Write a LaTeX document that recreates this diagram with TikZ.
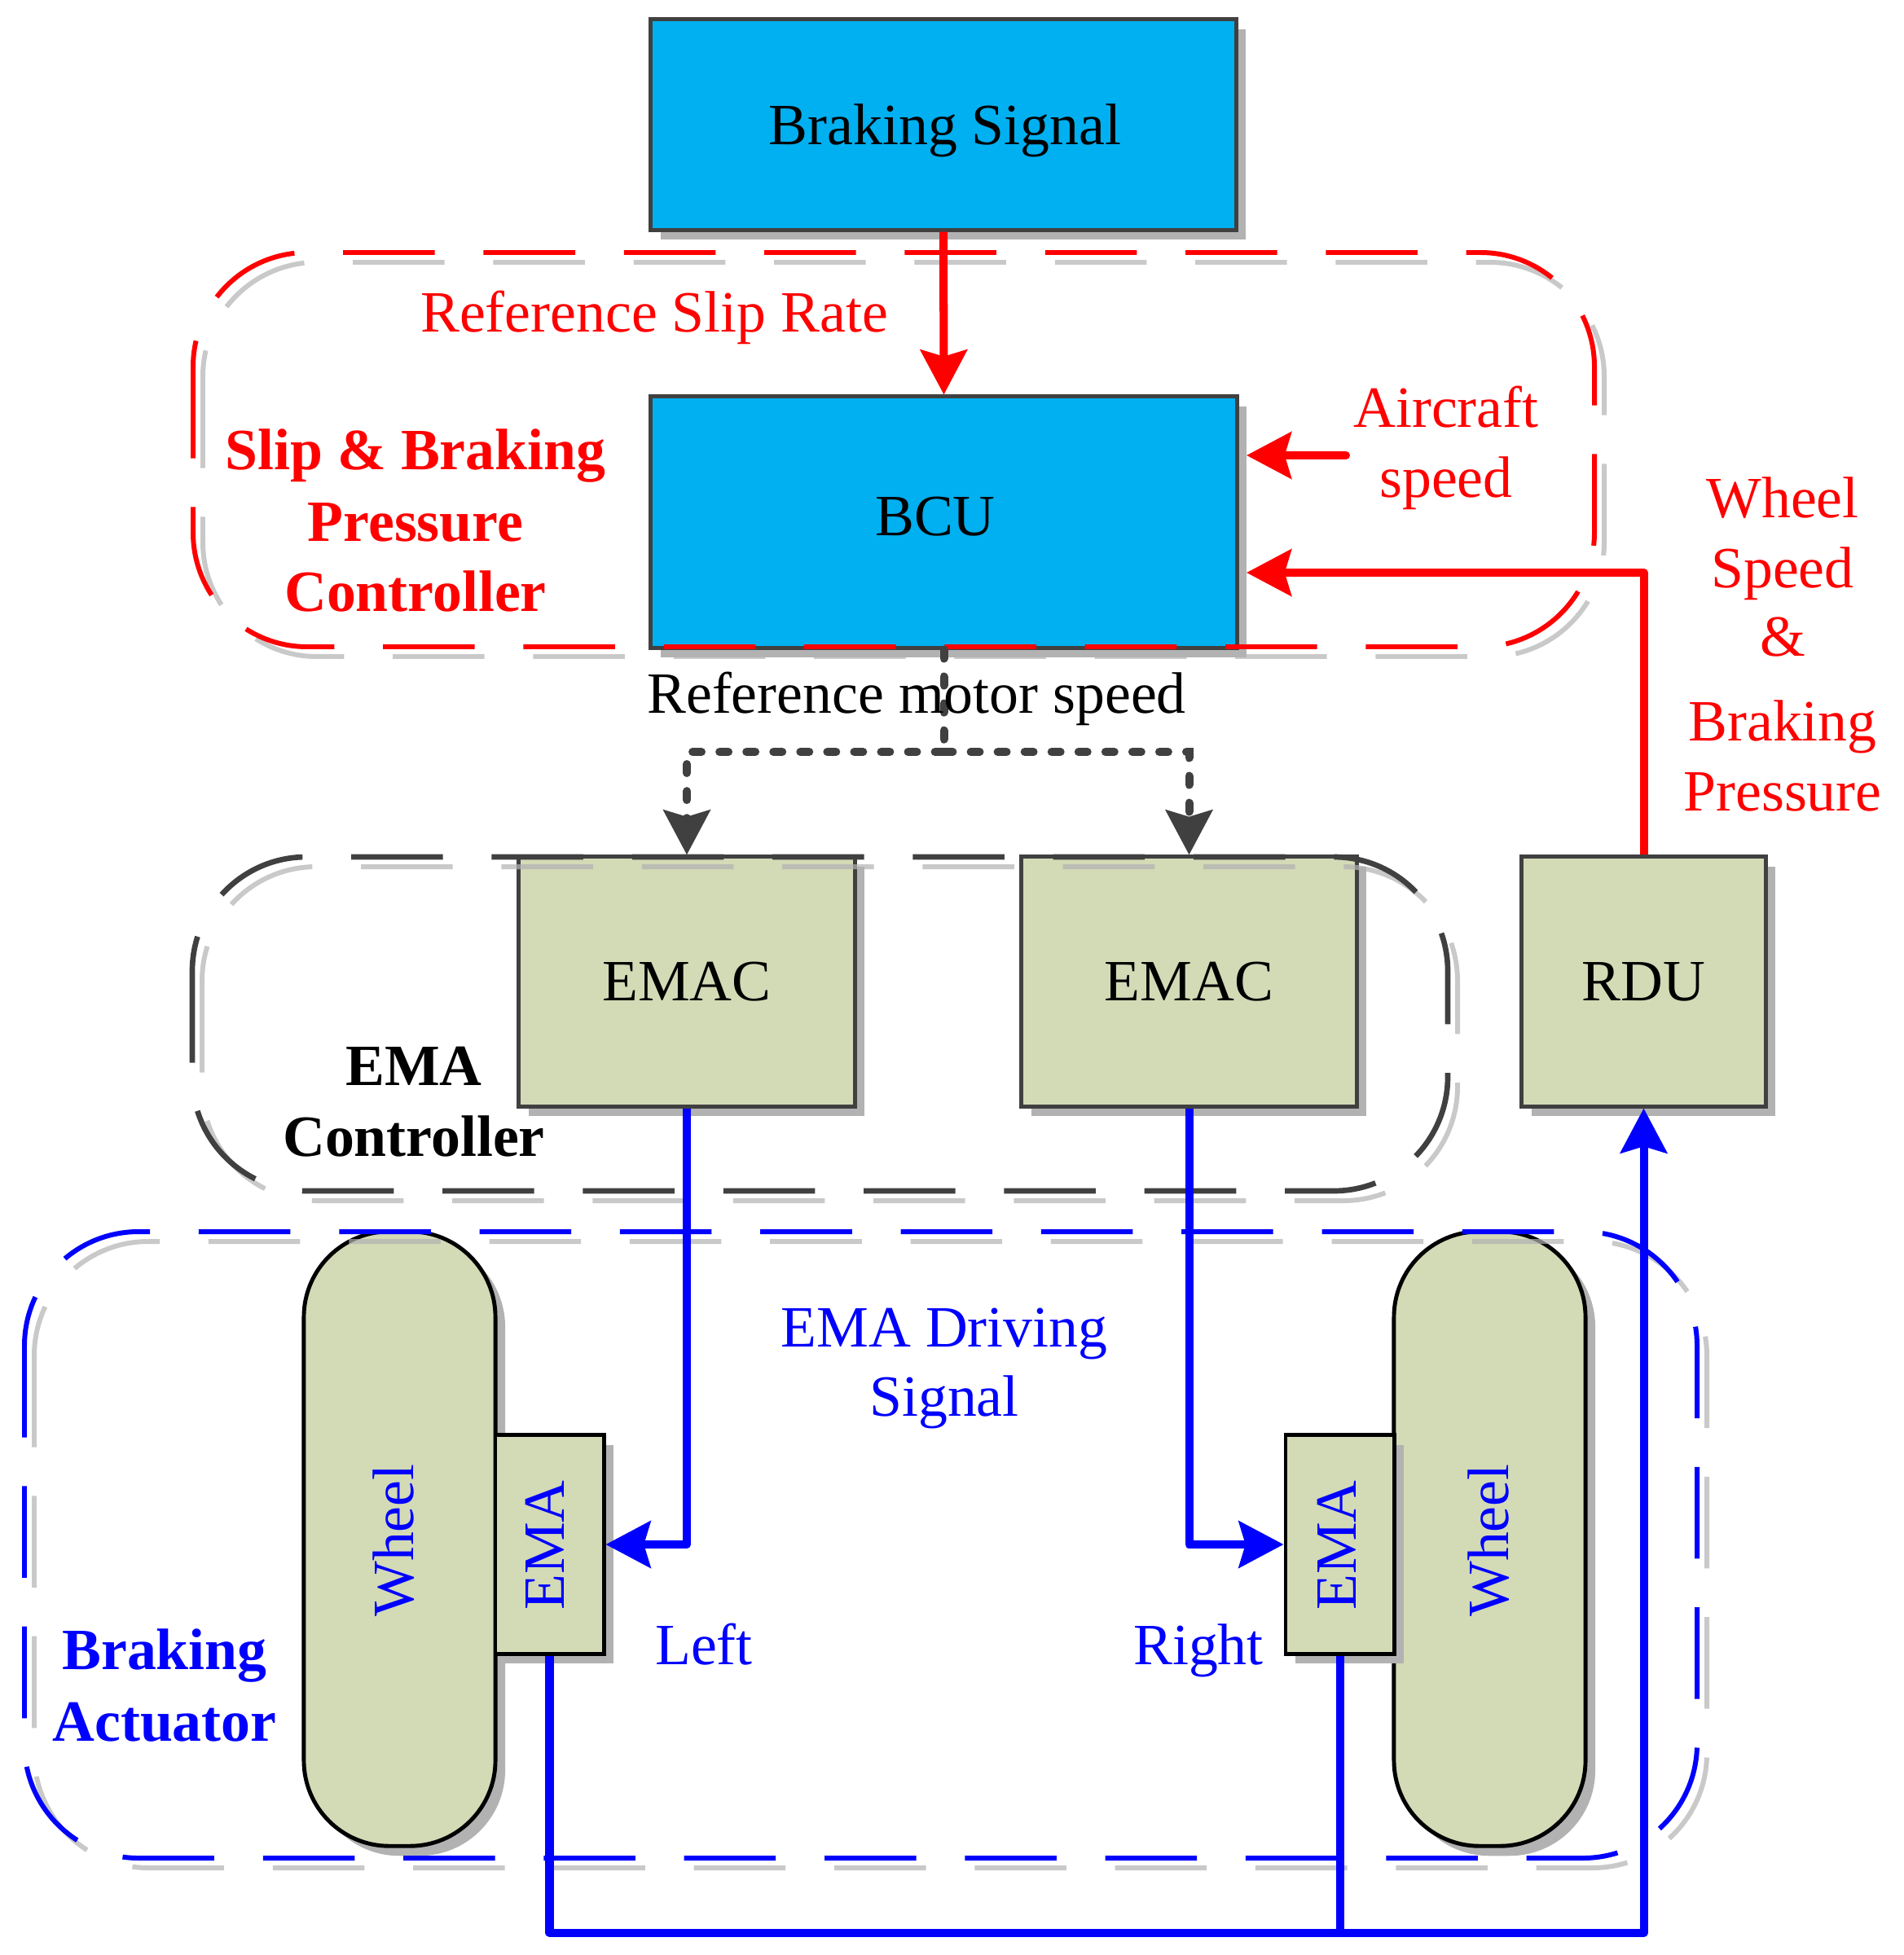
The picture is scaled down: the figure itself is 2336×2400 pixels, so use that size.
\documentclass[tikz,border=0pt]{standalone}
\usepackage{fontspec}
\setmainfont{Liberation Serif}
\usetikzlibrary{arrows.meta,shadows}
\definecolor{bcublue}{RGB}{0,176,240}
\definecolor{boxgreen}{RGB}{211,218,182}
\definecolor{boxgray}{RGB}{64,64,64}
\definecolor{shadowgray}{RGB}{178,178,178}
\definecolor{sigred}{RGB}{255,0,0}
\definecolor{sigblue}{RGB}{0,0,255}
\begin{document}
\begin{tikzpicture}[x=0.01cm,y=-0.01cm,
  every node/.style={font=\fontsize{20.4}{24.7}\selectfont, inner sep=0pt},
  boxshadow/.style={general shadow={shadow xshift=0.12cm, shadow yshift=-0.12cm, fill=shadowgray}},
  block/.style={draw=boxgray, line width=1.4pt, boxshadow},
  blackblock/.style={draw=black, line width=1.4pt, fill=boxgreen, boxshadow},
  cont/.style={line width=1.7pt, dash pattern=on 32pt off 17pt, rounded corners=1.4cm},
  contshadow/.style={cont, draw=shadowgray, opacity=0.7},
  tip/.style={-{Stealth[length=15.6pt, width=16.2pt, inset=2.3pt]}},
  sig/.style={line width=2.85pt, line join=round, tip},
  dots/.style={draw=boxgray, line width=2.85pt, line cap=round, dash pattern=on 3.1pt off 6.3pt},
  lbl/.style={anchor=base}
]
\useasboundingbox (0,0) rectangle (2336,2400);

% ---------- boxes ----------
\node[block, fill=bcublue, minimum width=7.18cm, minimum height=2.58cm] (bs) at (1158,153) {};
\node[block, fill=bcublue, minimum width=7.19cm, minimum height=3.08cm] (bcu) at (1158.5,641) {};
\node[block, fill=boxgreen, minimum width=4.12cm, minimum height=3.06cm, text depth=0pt] (emacL) at (843,1205) {EMAC};
\node[block, fill=boxgreen, minimum width=4.11cm, minimum height=3.06cm, text depth=0pt] (emacR) at (1459.5,1205) {EMAC};
\node[block, fill=boxgreen, minimum width=2.99cm, minimum height=3.06cm, text depth=0pt] (rdu) at (2017.5,1205) {RDU};

\node[blackblock, rounded corners=1.05cm, minimum width=2.35cm, minimum height=7.54cm] (wheelL) at (490.5,1889) {};
\node[blackblock, rounded corners=1.05cm, minimum width=2.35cm, minimum height=7.54cm] (wheelR) at (1828.5,1889) {};
\node[blackblock, minimum width=1.33cm, minimum height=2.68cm] (emaL) at (674.5,1896) {};
\node[blackblock, minimum width=1.33cm, minimum height=2.68cm] (emaR) at (1644.5,1896) {};

% box texts
\node[lbl] (bstext) at (1160,178) {Braking Signal};
\node[lbl] (bcutext) at (1148,657) {BCU};
\node[rotate=90, text=sigblue] (wLtext) at (483,1891) {Wheel};
\node[rotate=90, text=sigblue] (wRtext) at (1827,1891) {Wheel};
\node[rotate=90, text=sigblue] (eLtext) at (669,1897) {EMA};
\node[rotate=90, text=sigblue] (eRtext) at (1641,1897) {EMA};

% ---------- containers ----------
\draw[contshadow, shift={(12,12)}] (237,310) rectangle (1957,794);
\draw[contshadow, shift={(12,12)}] (236,1052) rectangle (1777,1462);
\draw[contshadow, shift={(12,12)}] (30,1512) rectangle (2083,2281);
\draw[cont, draw=sigred] (237,310) rectangle (1957,794);
\draw[cont, draw=boxgray, line width=1.9pt] (236,1052) rectangle (1777,1462);
\draw[cont, draw=sigblue] (30,1512) rectangle (2083,2281);

% ---------- red signals ----------
\coordinate (acsrc) at (1652,559);
\coordinate (acdst) at (1530,559);
\coordinate (wsdst) at (1530,703);
\draw[sig, draw=sigred] (bs.south) -- (bcu.north);
\draw[sig, draw=sigred, line cap=round] (acsrc) -- (acdst);
\draw[sig, draw=sigred] (rdu.north) |- (wsdst);

% ---------- reference motor speed ----------
\coordinate (mj) at (1158.5,923);
\draw[dots] (bcu.south) -- (mj);
\draw[dots, tip] (mj) -| (emacL.north);
\draw[dots, tip] (mj) -| (emacR.north);

% ---------- blue signals ----------
\coordinate (bot) at (0,2373);
\draw[sig, draw=sigblue] (emacL.south) |- (emaL.east);
\draw[sig, draw=sigblue] (emacR.south) |- (emaR.west);
\draw[sig, draw=sigblue] (emaL.south) -- (emaL.south |- bot) -| (rdu.south);
\draw[line width=2.85pt, draw=sigblue] (emaR.south) -- (emaR.south |- bot);

% ---------- labels ----------
\node[lbl, text=sigred] (rsr) at (803,407) {Reference Slip Rate};
\node[lbl, text=sigred] (ac1) at (1775,524) {Aircraft};
\node[lbl, text=sigred] (ac2) at (1775,610) {speed};
\node[lbl, text=sigred, font=\fontsize{20.4}{24.7}\selectfont\bfseries] (sb1) at (510,576) {Slip \& Braking};
\node[lbl, text=sigred, font=\fontsize{20.4}{24.7}\selectfont\bfseries] (sb2) at (510,664) {Pressure};
\node[lbl, text=sigred, font=\fontsize{20.4}{24.7}\selectfont\bfseries] (sb3) at (510,750) {Controller};
\node[lbl, text=sigred] (ws1) at (2188,635) {Wheel};
\node[lbl, text=sigred] (ws2) at (2188,721) {Speed};
\node[lbl, text=sigred] (ws3) at (2188,805) {\&};
\node[lbl, text=sigred] (ws4) at (2188,909) {Braking};
\node[lbl, text=sigred] (ws5) at (2188,995) {Pressure};
\node[lbl] (rms) at (1125,875) {Reference motor speed};
\node[lbl, font=\fontsize{20.4}{24.7}\selectfont\bfseries] (ec1) at (508,1332) {EMA};
\node[lbl, font=\fontsize{20.4}{24.7}\selectfont\bfseries] (ec2) at (508,1419) {Controller};
\node[lbl, text=sigblue] (eds1) at (1159,1653) {EMA Driving};
\node[lbl, text=sigblue] (eds2) at (1159,1738) {Signal};
\node[lbl, text=sigblue] (left) at (864,2043) {Left};
\node[lbl, text=sigblue] (right) at (1471,2043) {Right};
\node[lbl, text=sigblue, font=\fontsize{20.4}{24.7}\selectfont\bfseries] (ba1) at (202,2049) {Braking};
\node[lbl, text=sigblue, font=\fontsize{20.4}{24.7}\selectfont\bfseries] (ba2) at (202,2137) {Actuator};
\end{tikzpicture}
\end{document}
